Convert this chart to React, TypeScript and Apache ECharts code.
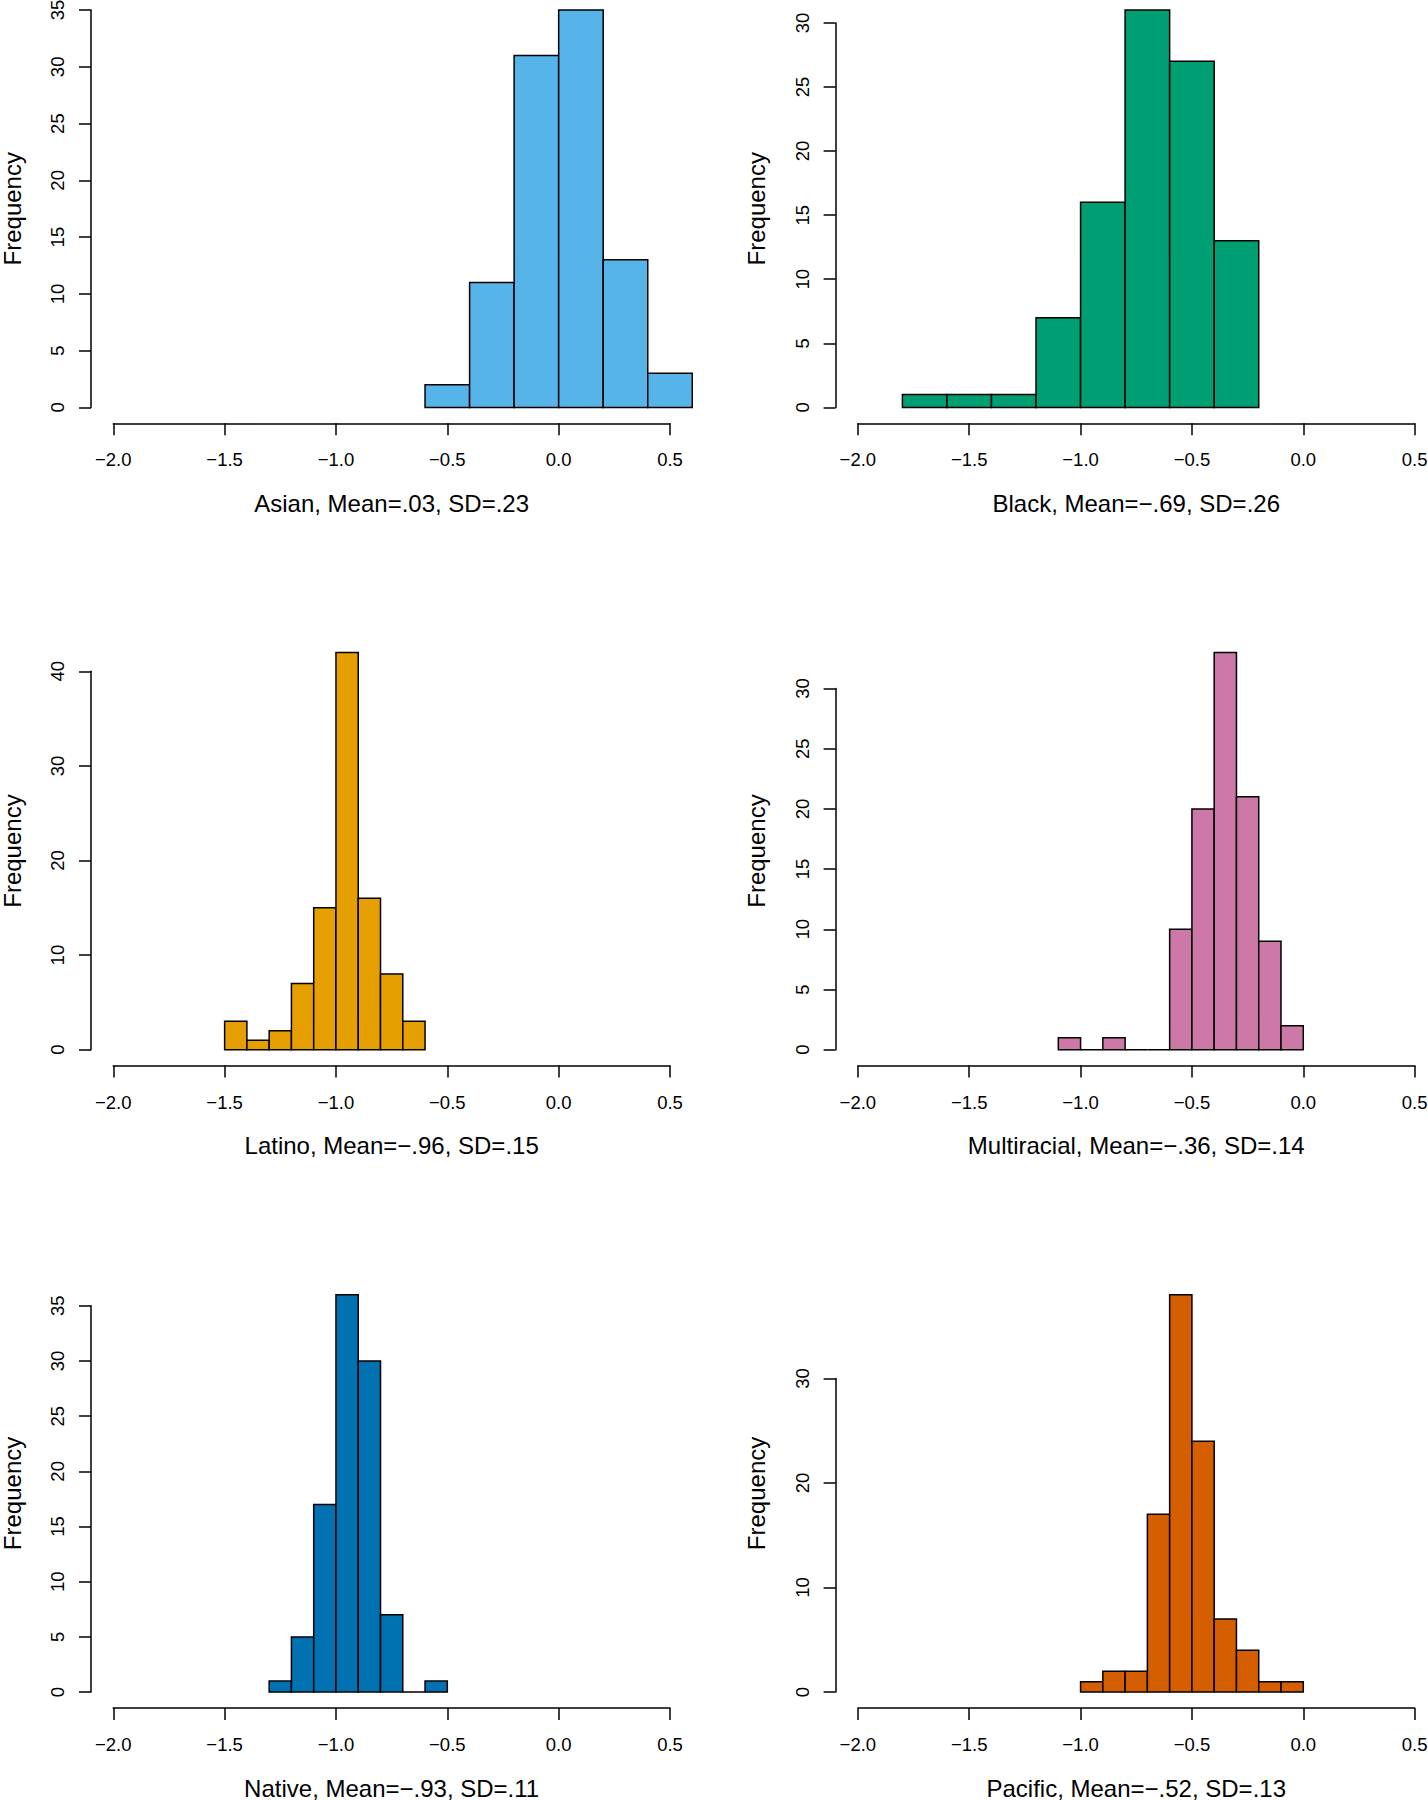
import React, { useEffect, useRef } from "react";
import * as echarts from "echarts";

// ---- Data ----
const asianBreaks = [-0.6, -0.4, -0.2, 0.0, 0.2, 0.4, 0.6];
const asianCounts = [2, 11, 31, 35, 13, 3];

const blackBreaks = [-1.8, -1.6, -1.4, -1.2, -1.0, -0.8, -0.6, -0.4, -0.2];
const blackCounts = [1, 1, 1, 7, 16, 31, 27, 13];

const latinoBreaks = [-1.5, -1.4, -1.3, -1.2, -1.1, -1.0, -0.9, -0.8, -0.7, -0.6];
const latinoCounts = [3, 1, 2, 7, 15, 42, 16, 8, 3];

const multiBreaks = [-1.1, -1.0, -0.9, -0.8, -0.7, -0.6, -0.5, -0.4, -0.3, -0.2, -0.1, 0.0];
const multiCounts = [1, 0, 1, 0, 0, 10, 20, 33, 21, 9, 2];

const nativeBreaks = [-1.3, -1.2, -1.1, -1.0, -0.9, -0.8, -0.7, -0.6, -0.5];
const nativeCounts = [1, 5, 17, 36, 30, 7, 0, 1];

const pacificBreaks = [-1.0, -0.9, -0.8, -0.7, -0.6, -0.5, -0.4, -0.3, -0.2, -0.1, 0.0];
const pacificCounts = [1, 2, 2, 17, 38, 24, 7, 4, 1, 1];

const titles = [
  "Asian, Mean=.03, SD=.23",
  "Black, Mean=\u2212.69, SD=.26",
  "Latino, Mean=\u2212.96, SD=.15",
  "Multiracial, Mean=\u2212.36, SD=.14",
  "Native, Mean=\u2212.93, SD=.11",
  "Pacific, Mean=\u2212.52, SD=.13",
];
const colors = ["#56B4E9", "#009E73", "#E69F00", "#CC79A7", "#0072B2", "#D55E00"];
const yTopTicks = [35, 30, 40, 30, 35, 30];
const yTickSteps = [5, 5, 10, 5, 5, 10];
const xTickMin = -2.0;
const xTickMax = 0.5;
const xTickStep = 0.5;

const allBreaks = [asianBreaks, blackBreaks, latinoBreaks, multiBreaks, nativeBreaks, pacificBreaks];
const allCounts = [asianCounts, blackCounts, latinoCounts, multiCounts, nativeCounts, pacificCounts];

// ---- Layout ----
const COL_LEFT = [91, 835.6];
const ROW_BOTTOM = [423.3, 1065.6, 1708];
const PLOT_H = 429.1;
const PX_PER_UNIT = 222.7;
const FONT = "'Liberation Sans', Arial, Helvetica, sans-serif";
const LW = 1.5;

function fmtX(v: number) {
  const s = v.toFixed(1);
  return s.startsWith("-") ? "\u2212" + s.slice(1) : s;
}

function buildOption() {
  const grid: any[] = [];
  const xAxis: any[] = [];
  const yAxis: any[] = [];
  const series: any[] = [];

  const xPad = 0.04 * (xTickMax - xTickMin);
  const xRegMin = xTickMin - xPad;
  const xRegMax = xTickMax + xPad;
  const plotW = (xRegMax - xRegMin) * PX_PER_UNIT;

  for (let i = 0; i < 6; i++) {
    const col = i % 2;
    const row = Math.floor(i / 2);
    const L = COL_LEFT[col];
    const B = ROW_BOTTOM[row];
    const T = B - PLOT_H;
    const counts = allCounts[i];
    const breaks = allBreaks[i];
    const ymax = Math.max(...counts);
    const yRegMin = -0.04 * ymax;
    const yRegMax = 1.04 * ymax;
    const pixY = (v: number) => B - ((v - yRegMin) / (yRegMax - yRegMin)) * PLOT_H;

    // grid A: plotting region with bars
    const gA = grid.length;
    grid.push({ left: L, top: T, width: plotW, height: PLOT_H, containLabel: false, outerBoundsMode: "none" });
    xAxis.push({
      gridIndex: gA,
      type: "value",
      min: xRegMin,
      max: xRegMax,
      show: false,
    });
    yAxis.push({
      gridIndex: gA,
      type: "value",
      min: yRegMin,
      max: yRegMax,
      show: true,
      axisLine: { show: false },
      axisTick: { show: false },
      axisLabel: { show: false },
      splitLine: { show: false },
      name: "Frequency",
      nameLocation: "middle",
      nameGap: 67,
      nameTextStyle: { fontFamily: FONT, fontSize: 24, color: "#000" },
    });
    const data = counts.map((c, k) => [breaks[k], breaks[k + 1], c]);
    const color = colors[i];
    series.push({
      type: "custom",
      xAxisIndex: gA,
      yAxisIndex: gA,
      clip: true,
      data,
      encode: { x: [0, 1], y: 2 },
      renderItem: (params: any, api: any) => {
        const x0 = api.value(0);
        const x1 = api.value(1);
        const c = api.value(2);
        const p0 = api.coord([x0, c]);
        const p1 = api.coord([x1, 0]);
        return {
          type: "rect",
          shape: { x: p0[0], y: p0[1], width: p1[0] - p0[0], height: p1[1] - p0[1] },
          style: { fill: color, stroke: "#000", lineWidth: LW },
        };
      },
    });

    // grid B: x axis from first to last tick
    const gB = grid.length;
    grid.push({
      left: L + xPad * PX_PER_UNIT,
      top: T,
      width: (xTickMax - xTickMin) * PX_PER_UNIT,
      height: PLOT_H,
      containLabel: false,
      outerBoundsMode: "none",
    });
    xAxis.push({
      gridIndex: gB,
      type: "value",
      min: xTickMin,
      max: xTickMax,
      interval: xTickStep,
      position: "bottom",
      axisLine: { show: true, lineStyle: { color: "#000", width: LW } },
      axisTick: { show: true, length: 12, lineStyle: { color: "#000", width: LW } },
      axisLabel: {
        show: true,
        margin: 27,
        fontFamily: FONT,
        fontSize: 18.5,
        color: "#000",
        formatter: (v: number) => fmtX(v),
        showMinLabel: true,
        showMaxLabel: true,
      },
      splitLine: { show: false },
      name: titles[i],
      nameLocation: "middle",
      nameGap: 68,
      nameTextStyle: { fontFamily: FONT, fontSize: 24, color: "#000" },
    });
    yAxis.push({ gridIndex: gB, type: "value", min: 0, max: 1, show: false });

    // grid C: y axis from 0 to top tick
    const gC = grid.length;
    const yTop = yTopTicks[i];
    grid.push({
      left: L,
      top: pixY(yTop),
      width: plotW,
      height: pixY(0) - pixY(yTop),
      containLabel: false,
      outerBoundsMode: "none",
    });
    xAxis.push({ gridIndex: gC, type: "value", min: 0, max: 1, show: false });
    yAxis.push({
      gridIndex: gC,
      type: "value",
      min: 0,
      max: yTop,
      interval: yTickSteps[i],
      position: "left",
      axisLine: { show: true, lineStyle: { color: "#000", width: LW } },
      axisTick: { show: true, length: 12, lineStyle: { color: "#000", width: LW } },
      axisLabel: {
        show: true,
        rotate: 90,
        margin: 24,
        fontFamily: FONT,
        fontSize: 18.5,
        color: "#000",
        showMinLabel: true,
        showMaxLabel: true,
      },
      splitLine: { show: false },
    });
  }

  return {
    animation: false,
    backgroundColor: "#ffffff",
    grid,
    xAxis,
    yAxis,
    series,
  };
}

export default function App() {
  const ref = useRef<HTMLDivElement | null>(null);
  useEffect(() => {
    if (!ref.current) return;
    const chart = echarts.init(ref.current, undefined, { renderer: "svg" });
    chart.setOption(buildOption() as any);
    return () => {
      chart.dispose();
    };
  }, []);
  return (
    <div
      ref={ref}
      style={{
        position: "absolute",
        left: 0,
        top: 0,
        width: 1428,
        height: 1800,
        background: "#ffffff",
      }}
    />
  );
}
